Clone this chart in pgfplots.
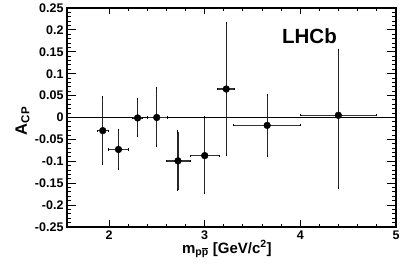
\documentclass[border=0pt]{standalone}
\usepackage{pgfplots}
\pgfplotsset{compat=1.18}
\usepackage{fontspec}
\setmainfont{Liberation Sans}
\newcommand\pbar{\ooalign{p\cr\hidewidth\rule[0.62em]{0.5em}{0.07em}\hidewidth\cr}}
\pgfplotstableread{
x y exm exp eym eyp
1.934 -0.030 0.060 0.055 0.075 0.076
2.098 -0.073 0.105 0.106 0.044 0.045
2.298 -0.001 0.050 0.050 0.042 0.043
2.498 0.000 0.100 0.110 0.065 0.068
2.720 -0.099 0.120 0.130 0.066 0.067
3.000 -0.087 0.150 0.150 0.086 0.087
3.225 0.065 0.095 0.085 0.150 0.150
3.653 -0.018 0.353 0.347 0.070 0.070
4.397 0.005 0.400 0.400 0.166 0.150
}\datatable
\begin{document}
\begin{tikzpicture}
\begin{axis}[
  name=ax,
  scale only axis, width=329pt, height=219pt,
  xmin=1.56, xmax=5, ymin=-0.25, ymax=0.25,
  xtick={2,3,4,5}, xticklabels={2,3,4,5},
  minor x tick num=4,
  ytick={-0.25,-0.2,-0.15,-0.1,-0.05,0,0.05,0.1,0.15,0.2,0.25},
  yticklabels={-0.25,-0.2,-0.15,-0.1,-0.05,0,0.05,0.1,0.15,0.2,0.25},
  minor y tick num=4,
  axis line style={line width=1.6pt},
  major tick length=9pt, minor tick length=4.5pt,
  xtick style={/pgfplots/major tick length=6.5pt, /pgfplots/minor tick length=3.3pt},
  every tick/.style={line width=1pt, black},
  tick label style={font=\bfseries\fontsize{12.5}{14}\selectfont},
  xlabel={m\textsubscript{p\pbar} [GeV/c\textsuperscript{2}]},
  ylabel={A\textsubscript{CP}},
  xlabel style={font=\bfseries\fontsize{15}{18}\selectfont, at={(axis description cs:0.486,-0.119)}, anchor=base},
  ylabel style={font=\bfseries\fontsize{16.5}{18}\selectfont, at={(axis description cs:-0.122,0.484)}, anchor=base, rotate=0},
  clip=false,
]
\addplot[line width=1.3pt, black] coordinates {(1.56,0) (5,0)};
\addplot[black, mark=none, only marks,
  error bars/.cd, y dir=both, y explicit,
  error bar style={line width=1.3pt, black!85},
  error mark=-,
  error mark options={mark size=1.1pt, line width=0.9pt, black}]
  table[x=x, y=y, y error minus=eym, y error plus=eyp] {\datatable};
\addplot[black, mark=*, mark size=3.4pt, only marks,
  error bars/.cd, x dir=both, x explicit,
  error bar style={line width=1.3pt, black!80},
  error mark=|,
  error mark options={mark size=1.1pt, line width=0.9pt, black}]
  table[x=x, y=y, x error minus=exm, x error plus=exp] {\datatable};
\node[font=\bfseries\fontsize{20.5}{24}\selectfont] at (axis cs:4.095,0.186) {LHCb};
\end{axis}
\path ([xshift=-67pt,yshift=-50pt]ax.south west) rectangle ([xshift=11pt,yshift=8pt]ax.north east);
\end{tikzpicture}
\end{document}
